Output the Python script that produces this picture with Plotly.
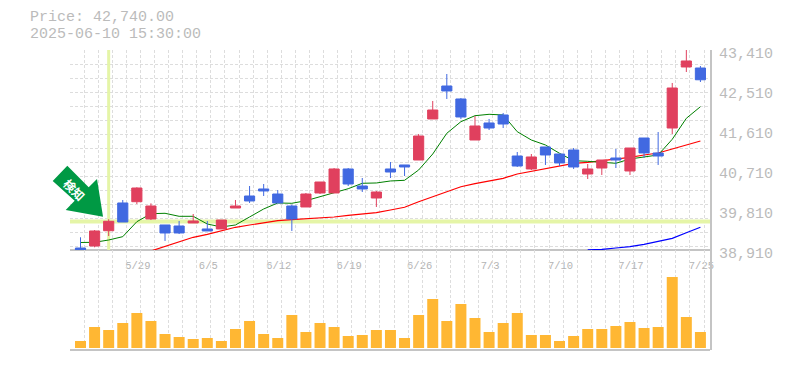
import plotly.graph_objects as go

price_high = [39196,39360,39601,40035,40321,39960,39473,39563,39720,39563,39585,40035,40350,40395,40260,39930,40193,40440,40755,40755,40530,40238,40890,40823,41520,42263,42870,42330,41925,41858,41993,41115,41070,41228,41070,41205,40845,40935,41183,41205,41430,41565,42668,43410,43050]
body_top = [38955,39338,39556,39968,40305,39900,39473,39450,39563,39383,39585,39900,40125,40283,40170,39900,40170,40440,40733,40733,40350,40215,40733,40823,41475,42060,42600,42308,41700,41768,41948,41025,41003,41228,41070,41160,40733,40935,40980,41205,41430,41093,42555,43163,43005]
body_bottom = [38910,39000,39344,39540,39997,39608,39293,39293,39518,39338,39383,39855,40013,40238,39968,39608,39878,40193,40193,40395,40283,40080,40665,40778,40935,41858,42488,41903,41385,41655,41745,40800,40733,41048,40868,40778,40620,40755,40935,40688,41093,41025,41655,43028,42740]
price_low = [38900,38971,39225,39540,39945,39585,39113,39270,39518,39338,39383,39855,39968,40125,39968,39338,39878,40170,40193,40350,40215,39878,40530,40575,40935,41858,42308,41858,41385,41610,41655,40778,40710,40823,40800,40733,40508,40598,40755,40598,40980,40823,41520,42915,42690]
is_up = [0,1,1,0,1,1,0,0,1,0,1,1,0,0,0,0,1,1,1,0,0,1,0,0,1,1,0,0,1,0,0,0,1,0,0,0,1,1,0,1,0,0,1,1,0]
ma_short = [39079,39083,39135,39210,39547,39727,39736,39668,39668,39495,39428,39473,39653,39833,39968,39961,40019,40109,40186,40289,40411,40418,40463,40478,40710,41070,41536,41797,41932,41963,41948,41572,41385,41273,41086,40919,40906,40890,40861,40958,40996,41048,41401,41873,42134]
ma_mid = [None]*5 + [38888,38993,39106,39196,39263,39338,39421,39473,39518,39569,39592,39608,39630,39653,39691,39720,39749,39810,39871,39997,40109,40222,40334,40402,40456,40523,40620,40681,40748,40800,40861,40883,40919,40951,40996,41048,41093,41183,41273,41363]
ma_long = [None]*36 + [38914,38922,38955,38985,39038,39113,39173,39299,39421]
volume = [7,21,18,25,35,27,14,11,9,10,7,19,27,14,10,33,16,25,21,12,13,18,18,10,33,49,27,44,30,16,25,35,13,13,7,12,19,19,22,26,20,21,71,31,16]
volume = [v * 1000 for v in volume]
date_pos = [4, 9, 14, 19, 24, 29, 34, 39, 44]
date_labels = ["5/29", "6/5", "6/12", "6/19", "6/26", "7/3", "7/10", "7/17", "7/25"]
price_ticks = [38910, 39810, 40710, 41610, 42510, 43410]
price_labels = ["38,910", "39,810", "40,710", "41,610", "42,510", "43,410"]
signal_index = 2
signal_price = 39551

idx = list(range(len(volume)))
opens = [b if u else t for t, b, u in zip(body_top, body_bottom, is_up)]
closes = [t if u else b for t, b, u in zip(body_top, body_bottom, is_up)]

XR = [-0.745, 44.68]
YR = [38910, 43410]
GRID = "#dddddd"
FRAME = "#c4c4c4"
HILITE = "#e5f5a7"
TXT = "#bbbbbb"
FONT = "Liberation Mono"

fig = go.Figure()
fig.add_trace(go.Bar(x=idx, y=volume, marker_color="#ffb733", marker_line_width=0, width=0.78,
                     xaxis="x", yaxis="y2", showlegend=False))
fig.add_trace(go.Scatter(x=XR, y=[signal_price]*2, mode="lines", line=dict(color=HILITE, width=4),
                         xaxis="x", yaxis="y", showlegend=False))
fig.add_trace(go.Scatter(x=[signal_index]*2, y=YR, mode="lines", line=dict(color=HILITE, width=3),
                         xaxis="x", yaxis="y", showlegend=False))
for series, color, w in ((ma_long, "#0000ff", 1.2), (ma_mid, "#ff0000", 1.2), (ma_short, "#008000", 1)):
    fig.add_trace(go.Scatter(x=idx, y=series, mode="lines", line=dict(color=color, width=w),
                             xaxis="x", yaxis="y", showlegend=False))
fig.add_trace(go.Candlestick(x=idx, open=opens, high=price_high, low=price_low, close=closes,
                             increasing=dict(line=dict(color="#e0405e", width=1), fillcolor="#e0405e"),
                             decreasing=dict(line=dict(color="#4169e1", width=1), fillcolor="#4169e1"),
                             whiskerwidth=0, xaxis="x", yaxis="y3", showlegend=False))

W, H = 785, 370
L, R, T, B = 70, 75, 50, 20
PW, PH = W - L - R, H - T - B
def px(x): return (x - L) / PW
def py(y): return (H - B - y) / PH

arrow = [(67.3,165.7),(88.7,187.3),(97,179),(103,216.7),(65.7,210),(74.7,200.7),(52.7,181)]
path = "M " + " L ".join(f"{px(a):.4f},{py(b):.4f}" for a, b in arrow) + " Z"

fig.update_layout(
    width=W, height=H, margin=dict(l=L, r=R, t=T, b=B, autoexpand=False),
    paper_bgcolor="white", plot_bgcolor="white", font=dict(family=FONT, color=TXT),
    showlegend=False, barmode="overlay", hovermode=False, boxgap=0.28, boxgroupgap=0,
    xaxis=dict(range=XR, anchor="free", position=1/3, side="bottom", showline=True, linecolor=FRAME, linewidth=2,
               layer="below traces",
               tickmode="array", tickvals=date_pos, ticktext=date_labels, tickangle=0, ticks="",
               tickfont=dict(family=FONT, size=10.5, color="#b4b4b4"), ticklabelshift=1, ticklabelstandoff=5,
               showgrid=False, zeroline=False, rangeslider=dict(visible=False),
               minor=dict(tick0=-0.745, dtick=1, showgrid=True, gridcolor=GRID, griddash="3px,2px", gridwidth=1, ticks="")),
    yaxis=dict(domain=[1/3, 1], range=YR, side="right", anchor="x", showline=True, linecolor=FRAME, linewidth=2,
               tickmode="array", tickvals=price_ticks, ticktext=price_labels, ticks="",
               tickfont=dict(family=FONT, size=15, color=TXT), ticklabelshift=3, ticklabelstandoff=4,
               ticklabeloverflow="allow", showgrid=False, zeroline=False,
               minor=dict(tick0=43409.9, dtick=315, showgrid=True, gridcolor=GRID, griddash="3px,2px", gridwidth=1, ticks="")),
    yaxis2=dict(domain=[0, 1/3], range=[-2000, 98000], side="right", anchor="x", showline=True, linecolor=FRAME,
                linewidth=2, showticklabels=False, ticks="", showgrid=False, zeroline=False),
    yaxis3=dict(domain=[1/3, 1], range=YR, overlaying="y", side="right", visible=False, showgrid=False, zeroline=False),
    shapes=[
        dict(type="line", xref="paper", yref="paper", x0=0, x1=1, y0=0, y1=0, line=dict(color=FRAME, width=2)),
        dict(type="path", xref="paper", yref="paper", path=path, fillcolor="#009944", line=dict(width=0), layer="above"),
    ],
    annotations=[
        dict(text="Price: 42,740.00", xref="paper", yref="paper", x=px(28), y=py(18), xanchor="left", yanchor="middle",
             showarrow=False, font=dict(family=FONT, size=15, color=TXT)),
        dict(text="2025-06-10 15:30:00", xref="paper", yref="paper", x=px(28), y=py(35), xanchor="left", yanchor="middle",
             showarrow=False, font=dict(family=FONT, size=15, color=TXT)),
        dict(text="<b>検知</b>", xref="paper", yref="paper", x=px(75), y=py(189), xanchor="center", yanchor="middle",
             textangle=45, showarrow=False, font=dict(family="Noto Sans CJK JP", size=12, color="white")),
    ],
)
fig.write_html("out.html", config=dict(displayModeBar=False),
               post_script="document.body.style.margin='0';document.documentElement.style.overflow='hidden';")
